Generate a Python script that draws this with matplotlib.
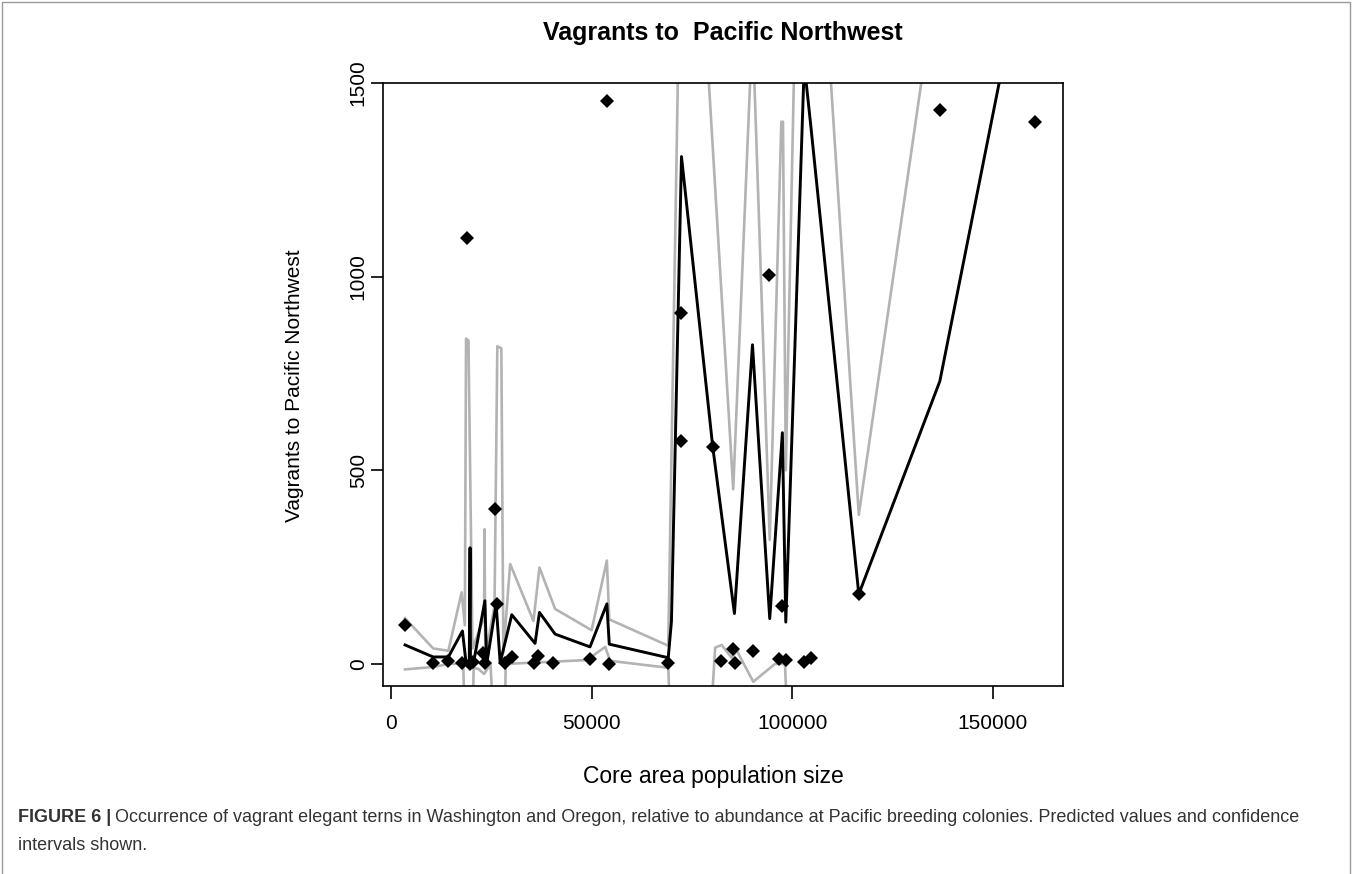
import matplotlib
matplotlib.use('Agg')
import matplotlib.pyplot as plt
from matplotlib.patches import Rectangle

plt.rcParams['font.family'] = ['Liberation Sans', 'DejaVu Sans']

# observed vagrants vs core area population size
pop = [3500, 10500, 14200, 17700, 19000, 19700, 20500, 23000, 23400, 25900,
       26300, 28300, 30100, 35700, 36700, 40400, 49600, 53800, 54300, 69000,
       72300, 72300, 80200, 82200, 85200, 85800, 90200, 94200, 96700, 97500,
       98400, 103000, 104600, 116600, 136800, 160600]
vagrants = [100, 3, 8, 3, 1100, 0, 5, 29, 3, 400,
            155, 3, 18, 3, 20, 3, 13, 1453, 0, 3,
            905, 575, 560, 8, 39, 3, 34, 1003, 14, 150,
            11, 5, 15, 180, 1431, 1400]

# predicted values
fit_x = [3500, 10500, 14300, 17800, 18700, 19500, 19700, 19800, 20600, 23400,
         23850, 26200, 27200, 30100, 35900, 37000, 40900, 49600, 53800, 54400,
         69100, 69900, 72400, 80200, 85600, 90100, 94400, 97550, 98400, 103000,
         104600, 116600, 136800, 160600]
fit_y = [49, 18, 18, 85, 3, 3, 300, 5, 5, 163,
         0, 155, 3, 127, 53, 133, 77, 44, 155, 51,
         16, 110, 1310, 560, 130, 824, 117, 597, 108, 1548,
         1393, 180, 730, 1970]

# upper confidence limit
upper_x = [3500, 10500, 14300, 17600, 18400, 18700, 19300, 20300, 23200, 23300,
           23500, 25800, 26500, 27500, 28000, 29700, 35500, 37000, 40900, 50000,
           53800, 54400, 69100, 72300, 77500, 85300, 90100, 94400, 97300, 97700,
           98400, 103000, 104600, 116600, 136800, 160600]
upper_y = [118, 40, 34, 185, 100, 840, 835, 40, 120, 348,
           20, 150, 820, 815, 30, 258, 111, 249, 142, 87,
           267, 115, 47, 2000, 1800, 451, 1650, 320, 1400, 1400,
           500, 2800, 2314, 385, 1832, 3500]

# lower confidence limit
lower_x = [3500, 10500, 14300, 18000, 18900, 19900, 20600, 21800, 23200, 24800,
           26700, 27900, 28600, 48800, 53400, 54600, 69100, 72300, 77000, 80800,
           82400, 84900, 86200, 90300, 95700, 98200, 99400, 103000, 116600, 136800,
           160600]
lower_y = [-14, -8, 0, 1, -400, -400, -10, -13, -26, 0,
           -400, -400, 0, 10, 44, 8, -10, -800, -600, 42,
           49, 16, 34, -46, 0, 0, -300, -2500, -100, -400,
           -1500]

xticks = [0, 50000, 100000, 150000]
yticks = [0, 500, 1000, 1500]

W, H = 1355, 874
fig = plt.figure(figsize=(W / 100, H / 100), dpi=100)
fig.patch.set_facecolor('white')

# outer frame around figure + caption
fig.patches.append(Rectangle((2 / W, -0.01), (1350 - 2) / W, 1 - 2 / H + 0.01,
                             transform=fig.transFigure, fill=False,
                             edgecolor='#9a9a9a', lw=1.0))

ax = fig.add_axes([383 / W, 1 - 686 / H, 680 / W, 603 / H])
grey = '#b3b3b3'
ax.plot(fit_x, fit_y, color='black', lw=2.1, zorder=3)
ax.plot(upper_x, upper_y, color=grey, lw=1.9, zorder=2)
ax.plot(lower_x, lower_y, color=grey, lw=1.9, zorder=2)
ax.plot(pop, vagrants, 'D', color='black', ms=7, mew=0, zorder=4)

ax.set_xlim(-2000, 167500)
ax.set_ylim(-57, 1500)
ax.set_xticks(xticks)
ax.set_xticklabels([str(t) for t in xticks])
ax.set_yticks(yticks)
ax.set_yticklabels([str(t) for t in yticks], rotation=90, va='center')
for s in ax.spines.values():
    s.set_linewidth(1.2)
ax.tick_params(direction='out', length=9, width=1.2, labelsize=15)
ax.tick_params(axis='x', pad=11)
ax.tick_params(axis='y', pad=2)

fig.text(723 / W, 1 - 33 / H, 'Vagrants to  Pacific Northwest', ha='center',
         va='center', fontsize=18, fontweight='bold')
fig.text(713 / W, 1 - 776 / H, 'Core area population size', ha='center',
         va='center', fontsize=16.5)
fig.text(295 / W, 1 - 386 / H, 'Vagrants to Pacific Northwest', ha='center',
         va='center', rotation=90, fontsize=15)

# caption
cap_col = '#333333'
t1 = fig.text(18 / W, 1 - 818 / H, 'FIGURE 6 |', fontsize=13, fontweight='bold',
              color=cap_col, va='center')
fig.canvas.draw()
bb = t1.get_window_extent()
fig.text((bb.x1 + 4) / W, 1 - 818 / H,
         'Occurrence of vagrant elegant terns in Washington and Oregon, relative to '
         'abundance at Pacific breeding colonies. Predicted values and confidence',
         fontsize=13, color=cap_col, va='center')
fig.text(18 / W, 1 - 846 / H, 'intervals shown.', fontsize=13, color=cap_col,
         va='center')

fig.savefig('out.png', dpi=100)
